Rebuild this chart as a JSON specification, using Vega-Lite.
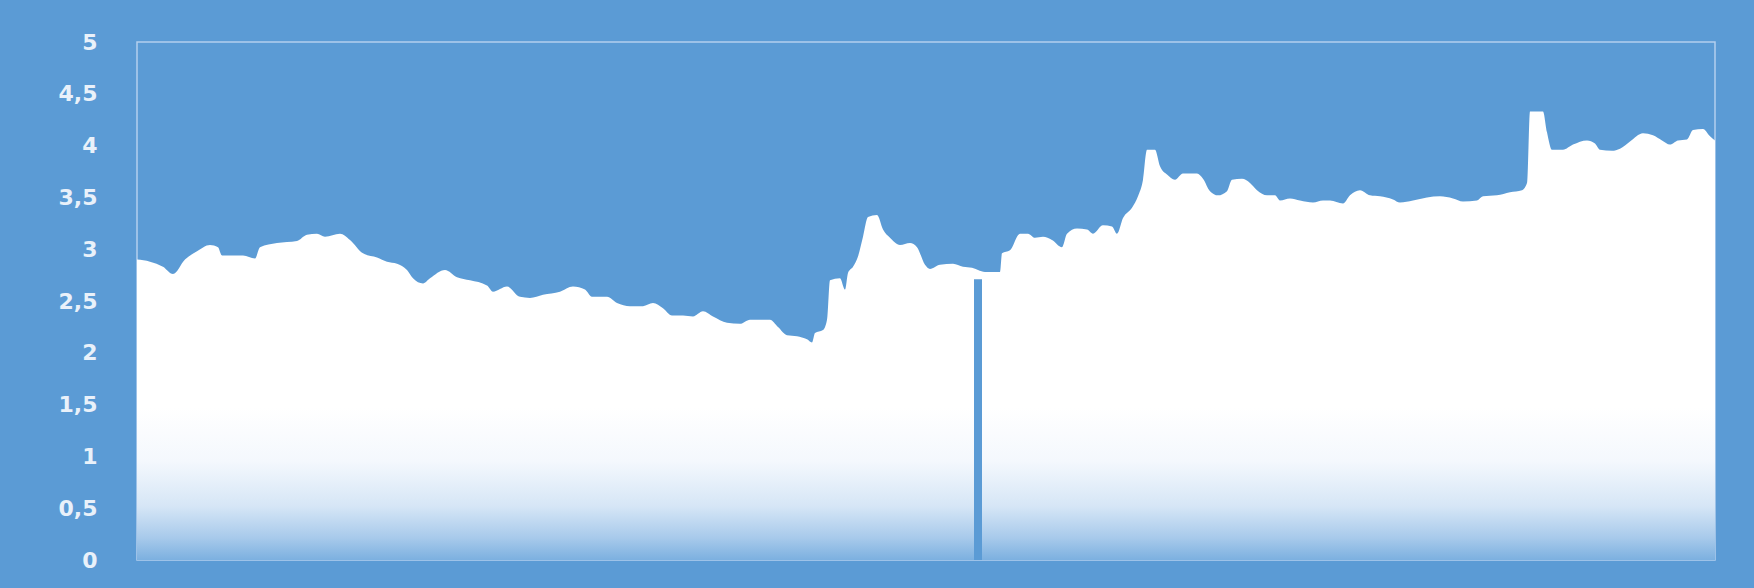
{
  "$schema": "https://vega.github.io/schema/vega-lite/v6.json",
  "width": 1578,
  "height": 518,
  "autosize": {"type": "none"},
  "padding": {"left": 137, "top": 42, "right": 39, "bottom": 28},
  "background": "#5B9BD5",
  "config": {
    "view": {"fill": "#5B9BD5", "stroke": "#B4D0EE", "strokeWidth": 1.5},
    "axis": {"grid": false, "domain": false, "ticks": false}
  },
  "datasets": {
    "series": [
      {"t":0,"v":2.90},{"t":13,"v":2.88},{"t":26,"v":2.83},{"t":36,"v":2.76},{"t":48,"v":2.90},{"t":60,"v":2.98},
      {"t":73,"v":3.04},{"t":81,"v":3.02},{"t":85,"v":2.94},{"t":106,"v":2.94},{"t":118,"v":2.91},{"t":123,"v":3.02},
      {"t":140,"v":3.06},{"t":160,"v":3.08},{"t":170,"v":3.14},{"t":180,"v":3.15},{"t":188,"v":3.12},{"t":203,"v":3.15},
      {"t":213,"v":3.09},{"t":226,"v":2.96},{"t":240,"v":2.92},{"t":250,"v":2.88},{"t":260,"v":2.86},{"t":270,"v":2.80},
      {"t":276,"v":2.72},{"t":286,"v":2.67},{"t":293,"v":2.72},{"t":308,"v":2.80},{"t":320,"v":2.73},{"t":333,"v":2.70},
      {"t":350,"v":2.65},{"t":356,"v":2.59},{"t":370,"v":2.64},{"t":383,"v":2.54},{"t":393,"v":2.53},{"t":406,"v":2.56},
      {"t":423,"v":2.59},{"t":436,"v":2.64},{"t":448,"v":2.61},{"t":455,"v":2.54},{"t":470,"v":2.54},{"t":480,"v":2.48},
      {"t":493,"v":2.45},{"t":506,"v":2.45},{"t":516,"v":2.48},{"t":526,"v":2.43},{"t":535,"v":2.36},{"t":546,"v":2.36},
      {"t":556,"v":2.35},{"t":566,"v":2.40},{"t":576,"v":2.35},{"t":590,"v":2.29},{"t":603,"v":2.28},{"t":613,"v":2.32},
      {"t":626,"v":2.32},{"t":633,"v":2.32},{"t":641,"v":2.25},{"t":650,"v":2.17},{"t":660,"v":2.16},{"t":670,"v":2.13},
      {"t":675,"v":2.10},{"t":678,"v":2.19},{"t":686,"v":2.22},{"t":690,"v":2.32},{"t":693,"v":2.70},{"t":703,"v":2.72},
      {"t":708,"v":2.61},{"t":711,"v":2.77},{"t":716,"v":2.83},{"t":721,"v":2.93},{"t":726,"v":3.12},{"t":731,"v":3.31},
      {"t":740,"v":3.33},{"t":746,"v":3.19},{"t":753,"v":3.11},{"t":763,"v":3.04},{"t":773,"v":3.06},{"t":780,"v":3.02},
      {"t":788,"v":2.85},{"t":793,"v":2.81},{"t":803,"v":2.85},{"t":816,"v":2.86},{"t":826,"v":2.83},{"t":835,"v":2.82},
      {"t":841,"v":2.80},{"t":848,"v":2.78},{"t":863,"v":2.78},{"t":865,"v":2.96},{"t":873,"v":2.99},{"t":883,"v":3.15},
      {"t":891,"v":3.15},{"t":898,"v":3.11},{"t":906,"v":3.12},{"t":915,"v":3.09},{"t":925,"v":3.02},{"t":930,"v":3.15},
      {"t":940,"v":3.20},{"t":950,"v":3.19},{"t":956,"v":3.15},{"t":966,"v":3.23},{"t":975,"v":3.22},{"t":980,"v":3.15},
      {"t":986,"v":3.30},{"t":995,"v":3.40},{"t":1001,"v":3.51},{"t":1006,"v":3.67},{"t":1010,"v":3.96},{"t":1018,"v":3.96},
      {"t":1023,"v":3.80},{"t":1030,"v":3.72},{"t":1038,"v":3.67},{"t":1046,"v":3.73},{"t":1060,"v":3.73},{"t":1066,"v":3.68},
      {"t":1073,"v":3.56},{"t":1081,"v":3.52},{"t":1090,"v":3.56},{"t":1095,"v":3.67},{"t":1105,"v":3.68},{"t":1113,"v":3.64},
      {"t":1120,"v":3.57},{"t":1130,"v":3.52},{"t":1138,"v":3.52},{"t":1143,"v":3.47},{"t":1153,"v":3.49},{"t":1163,"v":3.47},
      {"t":1176,"v":3.45},{"t":1186,"v":3.47},{"t":1193,"v":3.47},{"t":1206,"v":3.44},{"t":1213,"v":3.52},{"t":1223,"v":3.57},
      {"t":1233,"v":3.52},{"t":1243,"v":3.51},{"t":1256,"v":3.48},{"t":1263,"v":3.45},{"t":1276,"v":3.47},{"t":1290,"v":3.50},
      {"t":1303,"v":3.51},{"t":1316,"v":3.49},{"t":1326,"v":3.46},{"t":1340,"v":3.47},{"t":1346,"v":3.51},{"t":1360,"v":3.52},
      {"t":1373,"v":3.55},{"t":1385,"v":3.57},{"t":1390,"v":3.64},{"t":1393,"v":4.33},{"t":1406,"v":4.33},{"t":1410,"v":4.13},
      {"t":1415,"v":3.96},{"t":1426,"v":3.96},{"t":1436,"v":4.01},{"t":1450,"v":4.05},{"t":1458,"v":4.02},{"t":1463,"v":3.96},
      {"t":1475,"v":3.95},{"t":1483,"v":3.97},{"t":1493,"v":4.04},{"t":1506,"v":4.12},{"t":1516,"v":4.10},{"t":1525,"v":4.05},
      {"t":1533,"v":4.01},{"t":1541,"v":4.05},{"t":1550,"v":4.06},{"t":1556,"v":4.15},{"t":1566,"v":4.16},{"t":1573,"v":4.09},
      {"t":1578,"v":4.05}
    ],
    "gap": [{"start": 837, "end": 845, "top": 2.71}]
  },
  "layer": [
    {
      "data": {"name": "series"},
      "mark": {
        "type": "area",
        "interpolate": "monotone",
        "clip": true,
        "color": {
          "gradient": "linear",
          "x1": 0, "y1": 0, "x2": 0, "y2": 1,
          "stops": [
            {"offset": 0, "color": "#FFFFFF"},
            {"offset": 0.66, "color": "#FFFFFF"},
            {"offset": 0.78, "color": "#F4F8FD"},
            {"offset": 0.88, "color": "#D6E6F6"},
            {"offset": 0.95, "color": "#A8CAEB"},
            {"offset": 1, "color": "#7CB0E0"}
          ]
        }
      },
      "encoding": {
        "x": {"field": "t", "type": "quantitative", "scale": {"domain": [0, 1578], "nice": false, "zero": false}, "axis": null},
        "y": {
          "field": "v", "type": "quantitative",
          "scale": {"domain": [0, 5], "nice": false},
          "axis": {
            "title": null,
            "values": [0, 0.5, 1, 1.5, 2, 2.5, 3, 3.5, 4, 4.5, 5],
            "labelExpr": "replace(toString(datum.value), '.', ',')",
            "labelFont": "DejaVu Sans",
            "labelFontSize": 22,
            "labelFontWeight": "bold",
            "labelColor": "#E9F1FA",
            "labelPadding": 40
          }
        }
      }
    },
    {
      "data": {"name": "gap"},
      "mark": {"type": "rect", "color": "#5B9BD5"},
      "encoding": {
        "x": {"field": "start", "type": "quantitative"},
        "x2": {"field": "end"},
        "y": {"field": "top", "type": "quantitative"},
        "y2": {"datum": 0}
      }
    }
  ]
}
